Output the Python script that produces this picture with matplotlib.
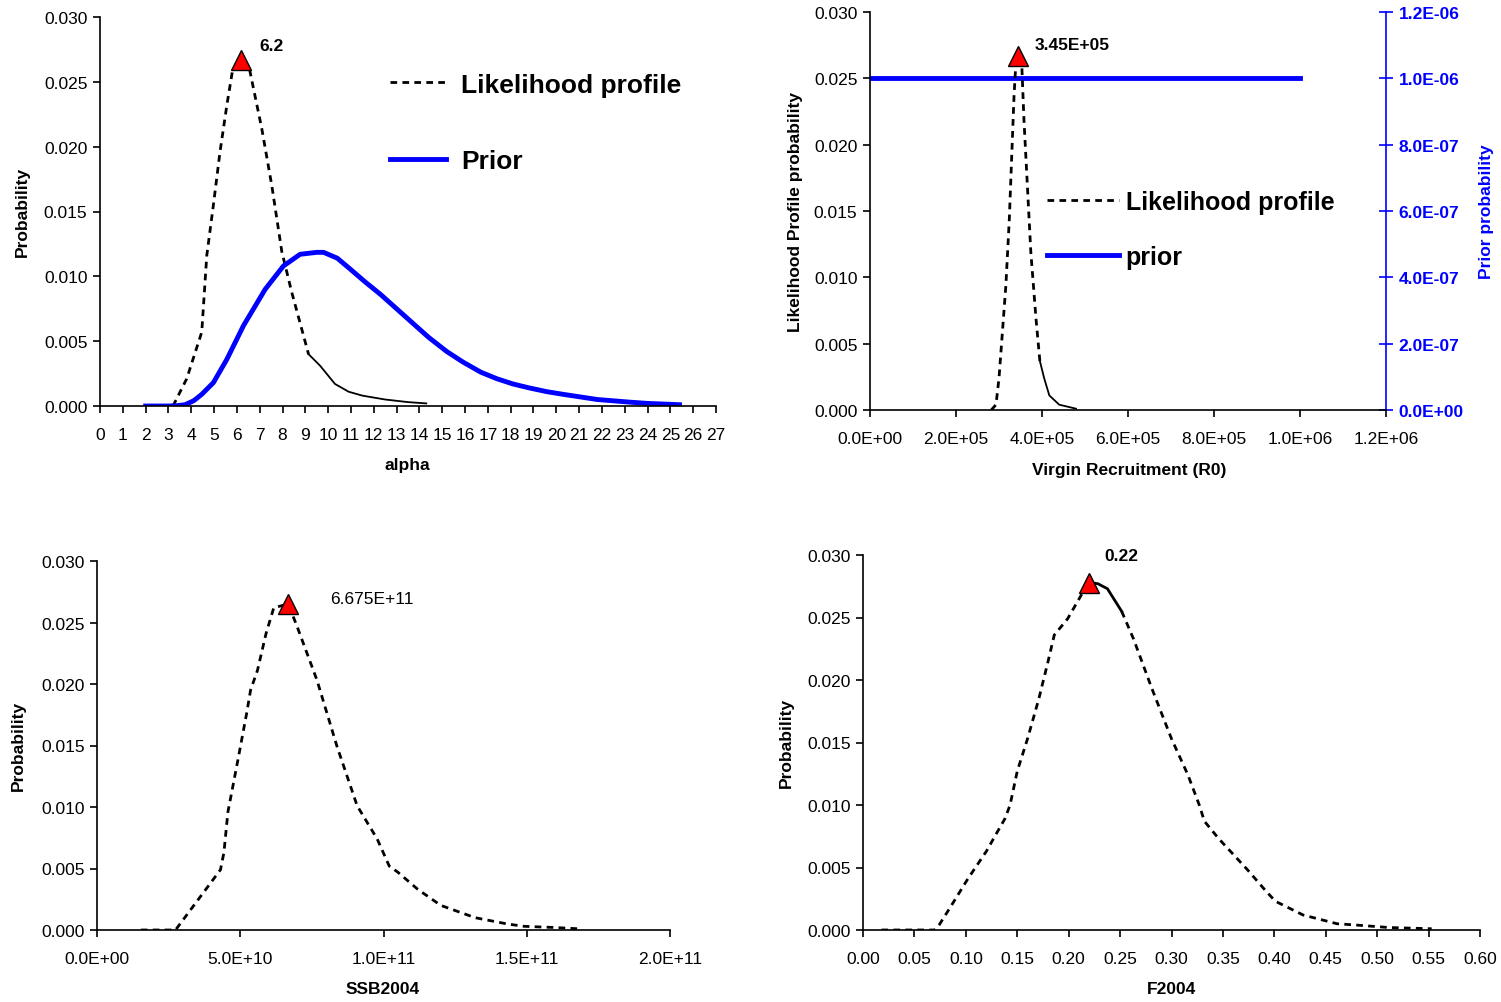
import matplotlib
matplotlib.use("Agg")
import matplotlib.pyplot as plt
from matplotlib.ticker import MultipleLocator, FuncFormatter

plt.rcParams['font.family'] = ['Liberation Sans', 'DejaVu Sans']

W, H = 1501, 1003

# ---- alpha ----
alpha_lik_x = [3.2, 3.8, 4.46, 4.68, 4.97, 5.26, 5.56, 5.82, 6.2, 6.55, 7.09, 7.53, 7.97, 8.4, 9.14]
alpha_lik_y = [0.0, 0.0021, 0.0057, 0.0116, 0.0155, 0.0196, 0.0232, 0.0260, 0.0267, 0.0260, 0.0214,
               0.0170, 0.0119, 0.0088, 0.0040]
alpha_tail_x = [9.14, 9.65, 10.3, 10.9, 11.5, 12.5, 13.5, 14.3]
alpha_tail_y = [0.0040, 0.0031, 0.0017, 0.0011, 0.0008, 0.0005, 0.0003, 0.0002]
alpha_prior_x = [2.0, 3.0, 3.4, 3.73, 4.1, 4.46, 4.97, 5.56, 6.29, 7.24, 8.04, 8.77, 9.5, 9.8, 10.4,
                 10.96, 11.6, 12.3, 13.0, 13.7, 14.4, 15.2, 15.9, 16.7, 17.4, 18.1, 18.8, 19.6, 20.3,
                 21.05, 21.8, 22.5, 23.2, 24.0, 24.7, 25.4]
alpha_prior_y = [0.0, 0.0, 0.00003, 0.0001, 0.0004, 0.0009, 0.0018, 0.0036, 0.0062, 0.0090, 0.0108,
                 0.0117, 0.01185, 0.01185, 0.0114, 0.01057, 0.0096, 0.0086, 0.0075, 0.0064, 0.0053,
                 0.0042, 0.0034, 0.0026, 0.0021, 0.0017, 0.0014, 0.0011, 0.0009, 0.0007, 0.0005,
                 0.0004, 0.0003, 0.0002, 0.00015, 0.0001]
alpha_peak = (6.2, 0.0267)

# ---- R0 ----
r0_lik_x = [2.82e5, 2.93e5, 3.00e5, 3.16e5, 3.24e5, 3.30e5, 3.35e5, 3.39e5, 3.45e5, 3.53e5, 3.58e5,
            3.66e5, 3.74e5, 3.86e5, 3.95e5]
r0_lik_y = [0.0, 0.0004, 0.0024, 0.0094, 0.0144, 0.0195, 0.0237, 0.0260, 0.0267, 0.0260, 0.0219,
            0.0169, 0.0119, 0.0069, 0.0037]
r0_tail_x = [3.95e5, 4.05e5, 4.17e5, 4.40e5, 4.79e5]
r0_tail_y = [0.0037, 0.0024, 0.0011, 0.0004, 0.0001]
r0_prior_x = [0.0, 1.0e6]
r0_prior_y = [1.0e-6, 1.0e-6]
r0_peak = (3.45e5, 0.0267)

# ---- SSB2004 ----
ssb_x = [1.53e10, 2.74e10, 4.31e10, 4.43e10, 4.57e10, 4.90e10, 5.23e10, 5.36e10, 5.60e10, 5.90e10,
         6.17e10, 6.675e10, 6.98e10, 7.68e10, 8.38e10, 9.08e10, 9.78e10, 1.02e11, 1.05e11, 1.12e11,
         1.20e11, 1.32e11, 1.43e11, 1.49e11, 1.60e11, 1.68e11]
ssb_y = [0.0, 0.0, 0.0049, 0.0063, 0.0096, 0.0136, 0.0177, 0.0195, 0.0211, 0.0241, 0.0262, 0.0265,
         0.0247, 0.0203, 0.0149, 0.0101, 0.0074, 0.0052, 0.0047, 0.0033, 0.0020, 0.0010, 0.0005,
         0.0003, 0.0002, 0.0001]
ssb_peak = (6.675e10, 0.0265)

# ---- F2004 ----
f_x = [0.018, 0.033, 0.070, 0.074, 0.084, 0.102, 0.120, 0.131, 0.138, 0.143, 0.150, 0.160, 0.171,
       0.180, 0.186, 0.199, 0.213, 0.220, 0.2285, 0.2377, 0.2515, 0.263, 0.281, 0.300, 0.316, 0.327,
       0.332, 0.346, 0.373, 0.392, 0.401, 0.428, 0.461, 0.479, 0.511, 0.553]
f_y = [0.0, 0.0, 0.0, 0.0004, 0.0017, 0.0041, 0.0063, 0.0079, 0.0089, 0.0100, 0.0127, 0.0153, 0.0185,
       0.0215, 0.0236, 0.0249, 0.0269, 0.0278, 0.0277, 0.0273, 0.0255, 0.0233, 0.0193, 0.0153, 0.0124,
       0.0100, 0.0087, 0.0073, 0.0049, 0.0031, 0.0023, 0.0012, 0.0005, 0.0004, 0.0002, 0.0001]
f_solid = (17, 20)   # index range drawn as a solid stroke
f_peak = (0.22, 0.0278)

DASH = (0, (2.4, 1.9))
TICK_FS = 12.5
LAB_FS = 12.5


def px_axes(left, top, right, bottom):
    return [left / W, 1 - bottom / H, (right - left) / W, (bottom - top) / H]


def fig_text(x, y, s, **kw):
    fig.text(x / W, 1 - y / H, s, ha='center', va='center', **kw)


def style(ax):
    for side in ('top', 'right'):
        ax.spines[side].set_visible(False)
    for side in ('left', 'bottom'):
        ax.spines[side].set_linewidth(1.2)
    ax.tick_params(direction='out', length=5, width=1.2, labelsize=TICK_FS, pad=4)
    ax.tick_params(axis='x', pad=10)
    ax.set_ylim(0, 0.030)
    ax.yaxis.set_major_locator(MultipleLocator(0.005))
    ax.yaxis.set_major_formatter(FuncFormatter(lambda v, p: f"{v:.3f}"))


def peak(ax, pt, label, dx, dy, bold=True):
    ax.plot([pt[0]], [pt[1]], marker='^', ms=15, mfc='red', mec='black', mew=1, zorder=5,
            clip_on=False)
    ax.annotate(label, xy=pt, xytext=(dx, dy), textcoords='offset pixels', ha='left', va='center',
                fontsize=12.5, fontweight='bold' if bold else 'normal')


sci = FuncFormatter(lambda v, p: f"{v:.1E}")

fig = plt.figure(figsize=(W / 100, H / 100), dpi=100)

# alpha
ax1 = fig.add_axes(px_axes(100, 18, 716, 407))
style(ax1)
ax1.plot(alpha_lik_x, alpha_lik_y, color='black', lw=2.0, linestyle=DASH, label='Likelihood profile')
ax1.plot(alpha_tail_x, alpha_tail_y, color='black', lw=1.3)
ax1.plot(alpha_prior_x, alpha_prior_y, color='#0000FF', lw=3.5, label='Prior')
ax1.set_xlim(0, 27)
ax1.xaxis.set_major_locator(MultipleLocator(1))
peak(ax1, alpha_peak, '6.2', 18, 14)
ax1.legend(loc='upper left', bbox_to_anchor=(0.471, 0.857), frameon=False, borderpad=0,
           prop={'size': 19, 'weight': 'bold'}, handlelength=2.1, handletextpad=0.6,
           labelspacing=2.0, borderaxespad=0)
fig_text(22, 212, 'Probability', rotation=90, fontsize=LAB_FS, fontweight='bold')
fig_text(407, 466, 'alpha', fontsize=LAB_FS, fontweight='bold')

# R0
ax2 = fig.add_axes(px_axes(870, 13, 1386, 411))
style(ax2)
l1, = ax2.plot(r0_lik_x, r0_lik_y, color='black', lw=2.0, linestyle=DASH, label='Likelihood profile')
ax2.plot(r0_tail_x, r0_tail_y, color='black', lw=1.3)
ax2.set_xlim(0, 1.2e6)
ax2.xaxis.set_major_locator(MultipleLocator(2e5))
ax2.xaxis.set_major_formatter(sci)
ax2r = ax2.twinx()
for side in ('top', 'left', 'bottom'):
    ax2r.spines[side].set_visible(False)
ax2r.spines['right'].set_color('#0000FF')
ax2r.spines['right'].set_linewidth(1.2)
l2, = ax2r.plot(r0_prior_x, r0_prior_y, color='#0000FF', lw=3.5, label='prior')
ax2r.set_ylim(0, 1.2e-6)
ax2r.yaxis.set_major_locator(MultipleLocator(2e-7))
ax2r.yaxis.set_major_formatter(sci)
ax2r.tick_params(axis='y', direction='inout', length=10, width=1.2, colors='#0000FF',
                 labelsize=TICK_FS, pad=4)
for t in ax2r.get_yticklabels():
    t.set_fontweight('bold')
ax2r.set_zorder(ax2.get_zorder() - 1)
ax2.patch.set_visible(False)
peak(ax2, r0_peak, '3.45E+05', 16, 11)
ax2.legend(handles=[l1, l2], loc='upper left', bbox_to_anchor=(0.343, 0.553), frameon=False,
           borderpad=0, prop={'size': 18, 'weight': 'bold'}, handlelength=2.9, handletextpad=0.25,
           labelspacing=1.25, borderaxespad=0)
fig_text(795, 212, 'Likelihood Profile probability', rotation=90, fontsize=LAB_FS, fontweight='bold')
fig_text(1486, 212, 'Prior probability', rotation=90, fontsize=LAB_FS, fontweight='bold',
         color='#0000FF')
fig_text(1129, 470, 'Virgin Recruitment (R0)', fontsize=LAB_FS, fontweight='bold')

# SSB2004
ax3 = fig.add_axes(px_axes(97, 562, 670, 931))
style(ax3)
ax3.plot(ssb_x, ssb_y, color='black', lw=2.0, linestyle=DASH)
ax3.set_xlim(0, 2e11)
ax3.xaxis.set_major_locator(MultipleLocator(5e10))
ax3.xaxis.set_major_formatter(sci)
peak(ax3, ssb_peak, '6.675E+11', 42, 6, bold=False)
fig_text(18, 746, 'Probability', rotation=90, fontsize=LAB_FS, fontweight='bold')
fig_text(383, 990, 'SSB2004', fontsize=LAB_FS, fontweight='bold')

# F2004
ax4 = fig.add_axes(px_axes(863, 556, 1480, 931))
style(ax4)
a, b = f_solid
ax4.plot(f_x[:a + 1], f_y[:a + 1], color='black', lw=2.0, linestyle=DASH)
ax4.plot(f_x[a:b + 1], f_y[a:b + 1], color='black', lw=2.0)
ax4.plot(f_x[b:], f_y[b:], color='black', lw=2.0, linestyle=DASH)
ax4.set_xlim(0, 0.6)
ax4.xaxis.set_major_locator(MultipleLocator(0.05))
ax4.xaxis.set_major_formatter(FuncFormatter(lambda v, p: f"{v:.2f}"))
peak(ax4, f_peak, '0.22', 15, 27)
fig_text(786, 743, 'Probability', rotation=90, fontsize=LAB_FS, fontweight='bold')
fig_text(1171, 990, 'F2004', fontsize=LAB_FS, fontweight='bold')

fig.savefig('out.png', dpi=100)
